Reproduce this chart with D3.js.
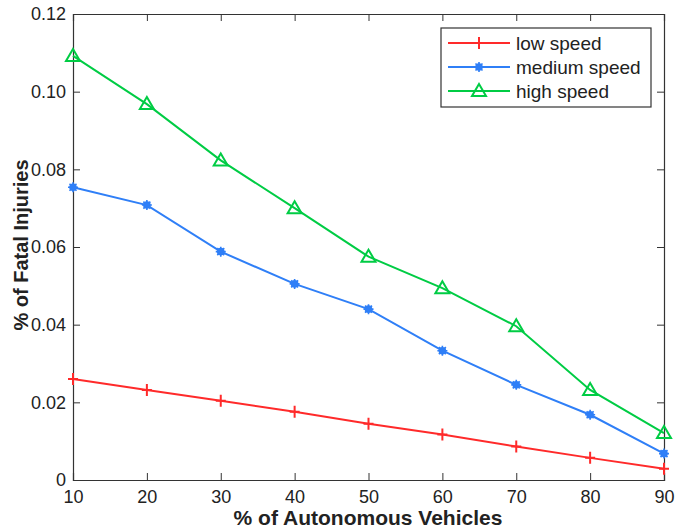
<!DOCTYPE html>
<html>
<head>
<meta charset="utf-8">
<script src="https://cdn.jsdelivr.net/npm/d3@7"></script>
<style>
  body { margin: 0; background: #fff; }
  text { font-family: "Liberation Sans", Helvetica, Arial, sans-serif; }
</style>
</head>
<body>
<div id="chart"></div>
<script>
// data
var xVals = [10, 20, 30, 40, 50, 60, 70, 80, 90];
var lowSpeed = [0.0260, 0.0232, 0.0204, 0.0176, 0.0145, 0.0117, 0.0086, 0.0057, 0.0029];
var mediumSpeed = [0.0754, 0.0708, 0.0588, 0.0505, 0.0440, 0.0333, 0.0245, 0.0168, 0.0068];
var highSpeed = [0.1092, 0.0968, 0.0823, 0.0700, 0.0575, 0.0494, 0.0396, 0.0232, 0.0121];
var seriesNames = ["low speed", "medium speed", "high speed"];
var xTicks = [10, 20, 30, 40, 50, 60, 70, 80, 90];
var yTicks = [0, 0.02, 0.04, 0.06, 0.08, 0.10, 0.12];

var W = 689, H = 531;
var m = {left: 73, right: 25, top: 14, bottom: 51};

var svg = d3.select("#chart").append("svg")
    .attr("width", W)
    .attr("height", H);

var x = d3.scaleLinear().domain([10, 90]).range([m.left, W - m.right]);
var y = d3.scaleLinear().domain([0, 0.12]).range([H - m.bottom, m.top]);

var axisColor = "#333";
var tickLen = 7;

// axes (ticks pointing inward, box around)
var gx = svg.append("g")
    .attr("transform", "translate(0," + (H - m.bottom) + ")")
    .call(d3.axisBottom(x).tickValues(xTicks).tickSize(-tickLen).tickPadding(10)
        .tickFormat(d3.format("d")));
var gxTop = svg.append("g")
    .attr("transform", "translate(0," + m.top + ")")
    .call(d3.axisTop(x).tickValues(xTicks).tickSize(-tickLen).tickFormat(""));
var gy = svg.append("g")
    .attr("transform", "translate(" + m.left + ",0)")
    .call(d3.axisLeft(y).tickValues(yTicks).tickSize(-tickLen).tickPadding(7)
        .tickFormat(function(d) { return d === 0 ? "0" : d3.format(".2f")(d); }));
var gyRight = svg.append("g")
    .attr("transform", "translate(" + (W - m.right) + ",0)")
    .call(d3.axisRight(y).tickValues(yTicks).tickSize(-tickLen).tickFormat(""));

[gx, gxTop, gy, gyRight].forEach(function(g) {
    g.select(".domain").attr("stroke", axisColor).attr("stroke-width", 1.2);
    g.selectAll(".tick line").attr("stroke", axisColor);
    g.selectAll("text").attr("fill", "#222").style("font-size", "18px");
});

// axis titles
svg.append("text")
    .attr("x", 368)
    .attr("y", 525)
    .attr("text-anchor", "middle")
    .style("font-size", "21px")
    .style("font-weight", "bold")
    .attr("fill", "#222")
    .text("% of Autonomous Vehicles");

svg.append("text")
    .attr("transform", "translate(28,245) rotate(-90)")
    .attr("text-anchor", "middle")
    .style("font-size", "20px")
    .style("font-weight", "bold")
    .attr("fill", "#222")
    .text("% of Fatal Injuries");

var series = [
    {name: seriesNames[0], values: lowSpeed, color: "#ff2a2a", marker: "plus"},
    {name: seriesNames[1], values: mediumSpeed, color: "#2f7ff7", marker: "dot"},
    {name: seriesNames[2], values: highSpeed, color: "#00cc44", marker: "tri"}
];

var line = d3.line()
    .x(function(d) { return x(d.x); })
    .y(function(d) { return y(d.y); });

function drawMarker(g, kind, color) {
    if (kind === "plus") {
        g.append("path").attr("d", "M-5,0H5M0,-6V6")
            .attr("stroke", color).attr("stroke-width", 2).attr("fill", "none");
    } else if (kind === "dot") {
        g.append("circle").attr("r", 3.8).attr("fill", color);
        g.append("path").attr("d", "M-5,0H5M0,-5V5M-3.5,-3.5L3.5,3.5M-3.5,3.5L3.5,-3.5")
            .attr("stroke", color).attr("stroke-width", 1.6);
    } else {
        g.append("path").attr("d", "M0,-7L7,5H-7Z")
            .attr("stroke", color).attr("stroke-width", 2).attr("fill", "none");
    }
}

series.forEach(function(s) {
    var pts = xVals.map(function(v, i) { return {x: v, y: s.values[i]}; });
    svg.append("path")
        .datum(pts)
        .attr("d", line)
        .attr("fill", "none")
        .attr("stroke", s.color)
        .attr("stroke-width", 2);
    svg.append("g").selectAll("g")
        .data(pts)
        .enter().append("g")
        .attr("transform", function(d) { return "translate(" + x(d.x) + "," + y(d.y) + ")"; })
        .each(function() { drawMarker(d3.select(this), s.marker, s.color); });
});

// legend
var lg = svg.append("g").attr("transform", "translate(441,28)");
lg.append("rect")
    .attr("width", 210).attr("height", 79)
    .attr("fill", "#fff").attr("stroke", "#333").attr("stroke-width", 1.2);
series.forEach(function(s, i) {
    var ry = 15 + i * 24;
    lg.append("line")
        .attr("x1", 7).attr("x2", 69).attr("y1", ry).attr("y2", ry)
        .attr("stroke", s.color).attr("stroke-width", 2);
    var mg = lg.append("g").attr("transform", "translate(38," + ry + ")");
    drawMarker(mg, s.marker, s.color);
    lg.append("text")
        .attr("x", 75).attr("y", ry + 7)
        .style("font-size", "19px")
        .attr("fill", "#222")
        .text(s.name);
});
</script>
</body>
</html>
